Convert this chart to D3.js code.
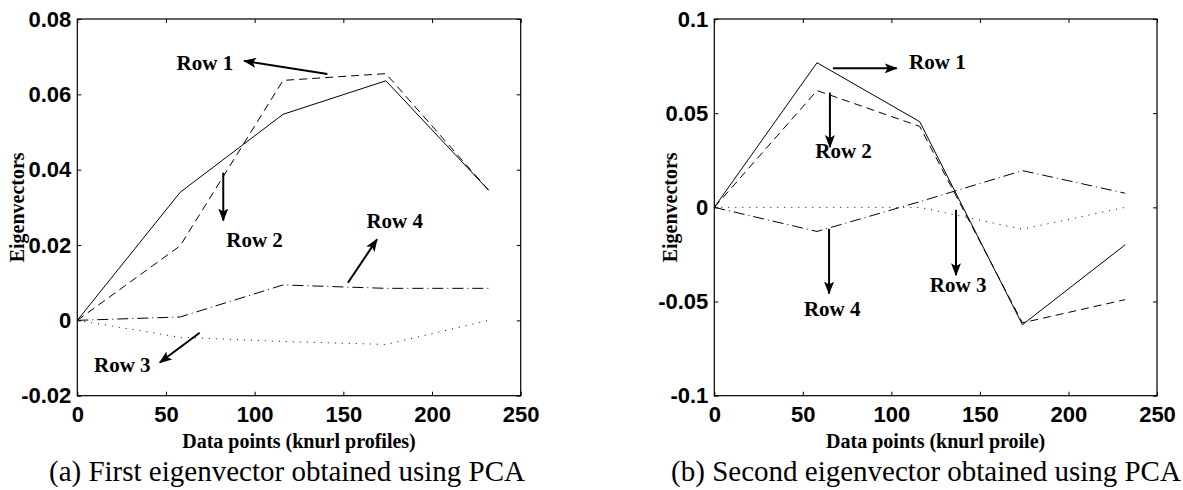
<!DOCTYPE html>
<html>
<head>
<meta charset="utf-8">
<script src="https://cdn.jsdelivr.net/npm/d3@7"></script>
<style>
  body { margin: 0; background: #fff; }
  .tick text { font-family: "Liberation Sans", Arial, sans-serif; font-weight: bold; font-size: 22px; fill: #000; }
  .axis-label { font-family: "Liberation Serif", "Times New Roman", serif; font-weight: bold; font-size: 20px; }
  .note { font-family: "Liberation Serif", "Times New Roman", serif; font-weight: bold; font-size: 21px; }
  .caption { font-family: "Liberation Serif", "Times New Roman", serif; font-size: 29px; }
</style>
</head>
<body>
<div id="chart"></div>
<script>
// Eigenvectors of the knurl profiles, first and second PCA component

// sample positions shared by both panels
const pointsX = [0, 58, 116, 174, 232];

// (a) first eigenvector
const firstRow1 = [0, 0.034, 0.0547, 0.0636, 0.0345];
const firstRow2 = [0, 0.0198, 0.0637, 0.0655, 0.0345];
const firstRow3 = [0, -0.0045, -0.0056, -0.0064, 0.0];
const firstRow4 = [0, 0.0009, 0.0094, 0.0085, 0.0085];

// (b) second eigenvector
const secondRow1 = [0, 0.0768, 0.0455, -0.0623, -0.0199];
const secondRow2 = [0, 0.062, 0.043, -0.0613, -0.049];
const secondRow3 = [0, 0, 0, -0.0116, 0];
const secondRow4 = [0, -0.0128, 0.003, 0.0195, 0.0075];

// tick values and labels
const xTicks = [0, 50, 100, 150, 200, 250];
const firstYTicks = [-0.02, 0, 0.02, 0.04, 0.06, 0.08];
const firstYLabels = ["-0.02", "0", "0.02", "0.04", "0.06", "0.08"];
const secondYTicks = [-0.1, -0.05, 0, 0.05, 0.1];
const secondYLabels = ["-0.1", "-0.05", "0", "0.05", "0.1"];

// row annotations: label, text anchor [x, y], arrow tail [x, y], arrow head [x, y] (data units)
const firstNotes = [
  ["Row 1", [56, 0.0665], [141, 0.0654], [94, 0.0689]],
  ["Row 2", [84, 0.0196], [82.3, 0.0392], [82.3, 0.0265]],
  ["Row 3", [9.4, -0.0136], [69, -0.0033], [46.5, -0.0112]],
  ["Row 4", [163, 0.0246], [152.6, 0.0100], [169, 0.0215]]
];
const secondNotes = [
  ["Row 1", [110, 0.0735], [67, 0.0738], [103, 0.0738]],
  ["Row 2", [57, 0.0261], [65.3, 0.0609], [65.3, 0.032]],
  ["Row 3", [121.7, -0.0447], [136.5, -0.0013], [136.5, -0.036]],
  ["Row 4", [50.6, -0.0576], [64.8, -0.0114], [64.8, -0.0458]]
];

const rowDash = ["none", "8,5", "1,6", "11,4,1,4"];

const W = 1183, H = 490;
const svg = d3.select("#chart").append("svg")
  .attr("width", W)
  .attr("height", H);

svg.append("defs").append("marker")
  .attr("id", "head")
  .attr("markerUnits", "userSpaceOnUse")
  .attr("viewBox", "0 0 13 10")
  .attr("refX", 12)
  .attr("refY", 5)
  .attr("markerWidth", 13)
  .attr("markerHeight", 10)
  .attr("orient", "auto")
  .append("path")
  .attr("d", "M0,0 L13,5 L0,10 L3,5 Z")
  .attr("fill", "#000");

function drawPanel(opts) {
  const { left, right, top, bottom } = opts;
  const x = d3.scaleLinear().domain([0, 250]).range([left, right]);
  const y = d3.scaleLinear().domain(d3.extent(opts.yTicks)).range([bottom, top]);

  const g = svg.append("g");

  // bottom / top axes with inward ticks
  g.append("g")
    .attr("transform", `translate(0,${bottom})`)
    .call(d3.axisBottom(x).tickValues(xTicks).tickSize(-4).tickPadding(11).tickFormat(d3.format("d")))
    .call(s => s.select(".domain").remove());
  g.append("g")
    .attr("transform", `translate(0,${top})`)
    .call(d3.axisTop(x).tickValues(xTicks).tickSize(-4).tickFormat(""))
    .call(s => s.select(".domain").remove());

  // left / right axes
  g.append("g")
    .attr("transform", `translate(${left},0)`)
    .call(d3.axisLeft(y).tickValues(opts.yTicks).tickSize(-4).tickPadding(6)
      .tickFormat((d, i) => opts.yLabels[i]))
    .call(s => s.select(".domain").remove());
  g.append("g")
    .attr("transform", `translate(${right},0)`)
    .call(d3.axisRight(y).tickValues(opts.yTicks).tickSize(-4).tickFormat(""))
    .call(s => s.select(".domain").remove());

  g.selectAll(".tick line").attr("stroke", "#000");

  g.append("rect")
    .attr("x", left)
    .attr("y", top)
    .attr("width", right - left)
    .attr("height", bottom - top)
    .attr("fill", "none")
    .attr("stroke", "#000")
    .attr("stroke-width", 1.2);

  const line = d3.line()
    .x((d, i) => x(pointsX[i]))
    .y(d => y(d));

  g.selectAll(".row")
    .data(opts.rows)
    .enter()
    .append("path")
    .attr("class", "row")
    .attr("d", line)
    .attr("fill", "none")
    .attr("stroke", "#000")
    .attr("stroke-width", 1)
    .attr("stroke-dasharray", (d, i) => rowDash[i]);

  // annotations
  g.selectAll(".note")
    .data(opts.notes)
    .enter()
    .append("text")
    .attr("class", "note")
    .attr("x", d => x(d[1][0]))
    .attr("y", d => y(d[1][1]))
    .text(d => d[0]);

  g.selectAll(".arrow")
    .data(opts.notes)
    .enter()
    .append("line")
    .attr("class", "arrow")
    .attr("x1", d => x(d[2][0]))
    .attr("y1", d => y(d[2][1]))
    .attr("x2", d => x(d[3][0]))
    .attr("y2", d => y(d[3][1]))
    .attr("stroke", "#000")
    .attr("stroke-width", 2)
    .attr("marker-end", "url(#head)");

  const cx = (left + right) / 2;
  g.append("text")
    .attr("class", "axis-label")
    .attr("x", cx)
    .attr("y", 448)
    .attr("text-anchor", "middle")
    .text(opts.xLabel);

  g.append("text")
    .attr("class", "axis-label")
    .attr("transform", `translate(${opts.yLabelX},${(top + bottom) / 2}) rotate(-90)`)
    .attr("text-anchor", "middle")
    .text("Eigenvectors");

  g.append("text")
    .attr("class", "caption")
    .attr("x", opts.captionX)
    .attr("y", 481)
    .attr("text-anchor", "middle")
    .text(opts.caption);
}

drawPanel({
  left: 77.3, right: 520.7, top: 19, bottom: 395.7,
  yTicks: firstYTicks, yLabels: firstYLabels,
  rows: [firstRow1, firstRow2, firstRow3, firstRow4],
  notes: firstNotes,
  xLabel: "Data points (knurl profiles)",
  yLabelX: 24,
  caption: "(a) First eigenvector obtained using PCA",
  captionX: 287
});

drawPanel({
  left: 714.3, right: 1157, top: 19, bottom: 395.7,
  yTicks: secondYTicks, yLabels: secondYLabels,
  rows: [secondRow1, secondRow2, secondRow3, secondRow4],
  notes: secondNotes,
  xLabel: "Data points (knurl proile)",
  yLabelX: 677,
  caption: "(b) Second eigenvector obtained using PCA",
  captionX: 926
});
</script>
</body>
</html>
